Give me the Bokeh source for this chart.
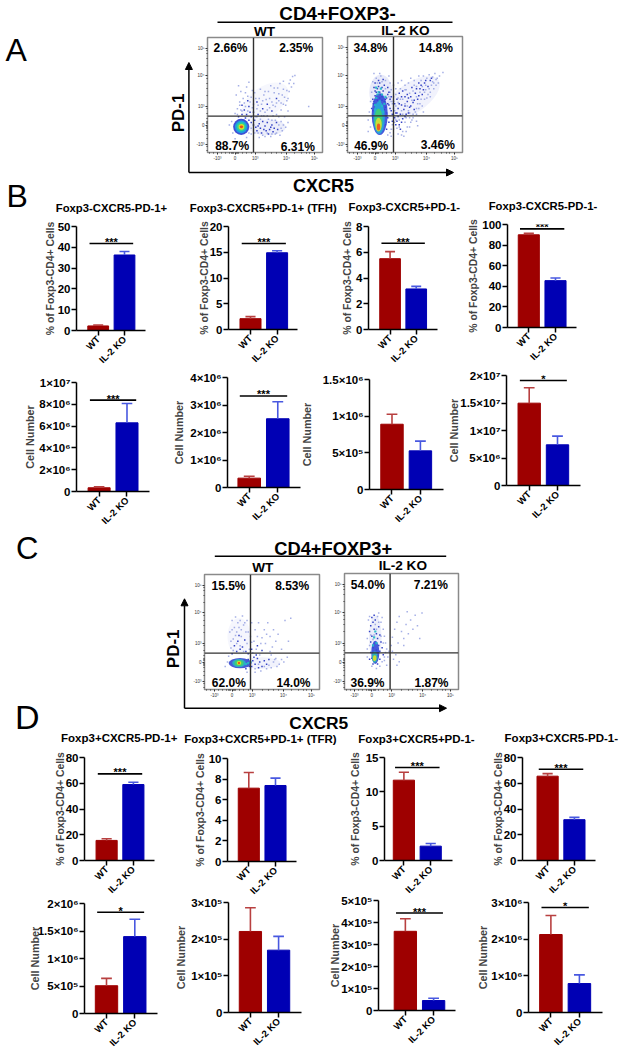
from math import pi
from bokeh.embed import file_html
from bokeh.resources import INLINE
from bokeh.plotting import figure
from bokeh.models import Range1d, FixedTicker, Arrow, NormalHead
from bokeh.core.properties import value

FONT = "Liberation Sans"
WT_COLOR, KO_COLOR = "#9E0000", "#0000B4"
WT_EDGE, KO_EDGE = "#B84040", "#4858E0"
GROUPS = ["WT", "IL-2 KO"]
PCT = "% of Foxp3-CD4+ Cells"
CELLS = "Cell Number"

# ---- bar data: WT mean, KO mean, WT error top, KO error top, significance height, stars
B1 = dict(vals=[2.2, 36.3], errs=[2.6, 38.0], sig=41.8, stars="***", ymax=50, ticks=[0, 10, 20, 30, 40, 50], labels=["0", "10", "20", "30", "40", "50"], ylabel=PCT)
B2 = dict(vals=[2.1, 14.9], errs=[2.5, 15.3], sig=16.7, stars="***", ymax=20, ticks=[0, 5, 10, 15, 20], labels=["0", "5", "10", "15", "20"], ylabel=PCT)
B3 = dict(vals=[5.5, 3.15], errs=[6.05, 3.35], sig=6.7, stars="***", ymax=8, ticks=[0, 2, 4, 6, 8], labels=["0", "2", "4", "6", "8"], ylabel=PCT)
B4 = dict(vals=[90, 45.5], errs=[91.5, 48], sig=95.8, stars="***", ymax=100, ticks=[0, 20, 40, 60, 80, 100], labels=["0", "20", "40", "60", "80", "100"], ylabel=PCT)
B5 = dict(vals=[3.4e5, 6.3e6], errs=[4.2e5, 8.07e6], sig=8.38e6, stars="***", ymax=1e7, ticks=[0, 2e6, 4e6, 6e6, 8e6, 1e7], labels=["0", "2×10⁶", "4×10⁶", "6×10⁶", "8×10⁶", "1×10⁷"], ylabel=CELLS)
B6 = dict(vals=[3.4e5, 2.5e6], errs=[4.1e5, 3.12e6], sig=3.33e6, stars="***", ymax=4e6, ticks=[0, 1e6, 2e6, 3e6, 4e6], labels=["0", "1×10⁶", "2×10⁶", "3×10⁶", "4×10⁶"], ylabel=CELLS)
B7 = dict(vals=[8.9e5, 5.27e5], errs=[1.027e6, 6.59e5], sig=None, stars="", ymax=1.5e6, ticks=[0, 5e5, 1e6, 1.5e6], labels=["0", "5×10⁵", "1×10⁶", "1.5×10⁶"], ylabel=CELLS)
B8 = dict(vals=[1.497e7, 7.4e6], errs=[1.776e7, 8.97e6], sig=1.909e7, stars="*", ymax=2e7, ticks=[0, 5e6, 1e7, 1.5e7, 2e7], labels=["0", "5×10⁶", "1×10⁷", "1.5×10⁷", "2×10⁷"], ylabel=CELLS)
D1 = dict(vals=[15.6, 59], errs=[16.9, 60.8], sig=67.3, stars="***", ymax=80, ticks=[0, 20, 40, 60, 80], labels=["0", "20", "40", "60", "80"], ylabel=PCT)
D2 = dict(vals=[7.12, 7.38], errs=[8.64, 8.09], sig=None, stars="", ymax=10, ticks=[0, 2, 4, 6, 8, 10], labels=["0", "2", "4", "6", "8", "10"], ylabel=PCT)
D3 = dict(vals=[5.05e5, 1.398e6], errs=[6.38e5, 1.714e6], sig=1.842e6, stars="*", ymax=2e6, ticks=[0, 5e5, 1e6, 1.5e6, 2e6], labels=["0", "5×10⁵", "1×10⁶", "1.5×10⁶", "2×10⁶"], ylabel=CELLS)
D4 = dict(vals=[2.21e5, 1.70e5], errs=[2.855e5, 2.075e5], sig=None, stars="", ymax=3e5, ticks=[0, 1e5, 2e5, 3e5], labels=["0", "1×10⁵", "2×10⁵", "3×10⁵"], ylabel=CELLS)
D5 = dict(vals=[11.7, 2.09], errs=[12.86, 2.48], sig=13.54, stars="***", ymax=15, ticks=[0, 5, 10, 15], labels=["0", "5", "10", "15"], ylabel=PCT)
D6 = dict(vals=[65.5, 31.7], errs=[67.5, 33.5], sig=70.9, stars="***", ymax=80, ticks=[0, 20, 40, 60, 80], labels=["0", "20", "40", "60", "80"], ylabel=PCT)
D7 = dict(vals=[3.6e5, 4.53e4], errs=[4.17e5, 5.6e4], sig=4.43e5, stars="***", ymax=5e5, ticks=[0, 1e5, 2e5, 3e5, 4e5, 5e5], labels=["0", "1×10⁵", "2×10⁵", "3×10⁵", "4×10⁵", "5×10⁵"], ylabel=CELLS)
D8 = dict(vals=[2.127e6, 7.9e5], errs=[2.645e6, 1.027e6], sig=2.864e6, stars="*", ymax=3e6, ticks=[0, 1e6, 2e6, 3e6], labels=["0", "1×10⁶", "2×10⁶", "3×10⁶"], ylabel=CELLS)

# ---- page placement of each plot frame: left, right, top, bottom, WT centre, KO centre, label standoff
BAR_PANELS = [
    (B1, 76.0, 145.0, 226.0, 329.5, 97.7, 124.0, -1),
    (B2, 227.7, 296.7, 226.0, 329.3, 249.7, 276.3, -3),
    (B3, 368.3, 437.7, 225.7, 328.3, 390.0, 416.3, 0),
    (B4, 506.7, 575.7, 224.3, 327.7, 528.0, 554.7, 0),
    (B5, 76.0, 149.3, 381.7, 490.7, 98.7, 126.7, 0),
    (B6, 226.7, 299.3, 377.3, 487.0, 248.3, 276.7, 2),
    (B7, 369.3, 443.0, 379.0, 489.0, 391.7, 420.0, 7),
    (B8, 506.0, 580.0, 375.3, 485.3, 528.7, 557.0, -3),
    (D1, 83.7, 153.3, 757.3, 860.0, 105.7, 132.3, -3),
    (D2, 226.7, 295.7, 757.7, 860.7, 248.0, 274.7, 0),
    (D3, 83.7, 156.7, 903.0, 1012.7, 105.7, 134.0, -6),
    (D4, 227.7, 301.0, 901.7, 1012.0, 249.7, 278.0, 1),
    (D5, 384.0, 451.7, 756.7, 859.7, 403.3, 430.0, 2),
    (D6, 522.3, 595.0, 756.7, 859.3, 547.3, 574.0, -3),
    (D7, 378.3, 455.7, 900.3, 1010.7, 405.3, 433.7, -3),
    (D8, 528.0, 601.7, 902.0, 1012.0, 550.3, 578.7, -1),
]

# ---- flow cytometry dots in axis units 0-100
A1_DARK = [(33,30),(36,28),(38,26),(40,24),(42,22),(43,19),(45,25),(46,21),(47,17),(48,27),(50,23),(51,19),(52,26),(53,16),(55,22),(56,24),(57,18),(58,21),(60,26),(61,20),(34,33),(37,35),(30,33),(32,37),(36,40),(30,41),(35,45),(40,35),(44,33),(43,44),(48,38),(52,42),(56,36),(60,47),(38,31),(27,31),(41,28),(44,23),(49,20),(54,20)]
A1_LIGHT = [(24,34),(26,38),(28,44),(25,50),(29,53),(27,58),(31,47),(33,52),(34,57),(36,61),(32,43),(38,48),(40,42),(41,52),(43,38),(45,47),(46,55),(47,42),(49,50),(50,35),(51,46),(53,53),(54,39),(55,58),(56,44),(58,52),(59,40),(60,33),(61,56),(62,45),(63,60),(64,37),(65,50),(66,62),(68,41),(69,54),(70,47),(71,60),(72,63),(74,66),(76,67),(66,42),(70,36),(62,31),(64,27),(66,24),(65,19),(63,15),(59,16),(55,14),(50,14),(45,13),(68,22),(70,26),(67,31),(57,32),(52,32),(47,32),(42,31),(39,39),(35,36),(29,37),(88,40),(22,17),(24,12),(34,13),(36,17),(38,21),(21,27),(19,24),(26,33),(28,41),(30,36),(33,40),(35,49),(37,44),(39,54),(42,47),(44,41),(46,36),(48,45),(50,53),(52,37),(54,47),(57,41),(58,56),(60,43),(62,51),(64,43),(66,55),(67,48),(69,45),(71,53),(73,57),(75,60),(46,29),(49,32),(53,29),(56,28),(59,28),(62,24),(64,21),(60,17),(56,16),(52,17),(48,15),(44,17),(41,17),(38,16),(43,31)]
A1_CORE = [(29.3,22.3,14,14,"#2a3cd0"),(29.3,22.3,11,11,"#18a8e0"),(29.3,22.3,8,8,"#30d890"),(29.5,22.3,5,5,"#e8e020"),(29.5,22.3,3,2.4,"#f03a18")]
A1_HAZE = [(52,22,32,14,0,0.15),(50,44,46,26,0.6,0.07)]
A1_HOT = []

A2_DARK = [(22,30),(24,34),(25,38),(23,42),(26,45),(24,49),(28,52),(30,48),(32,44),(33,39),(34,34),(35,30),(36,26),(31,28),(33,24),(34,20),(30,56),(26,55),(23,56),(35,50),(37,46),(36,41),(38,36),(39,33),(22,46),(21,38),(24,60),(28,60),(32,58),(35,56),(41,30),(43,27),(45,24),(42,34),(44,38),(46,33),(48,29),(41,42),(43,46),(47,41),(49,37),(51,33),(52,44),(54,39),(45,51),(48,53),(55,48),(57,43),(59,51),(61,46),(63,55),(65,50),(67,60),(70,57),(72,62),(62,60),(56,56),(52,50),(58,37),(46,20),(23,44),(25,52),(27,57),(29,50),(31,53),(33,46),(35,42),(37,38),(26,42),(30,45),(32,37),(34,47),(36,52),(24,53),(28,47),(22,36),(27,62),(31,63),(38,48),(40,44),(43,34),(45,42),(47,48),(50,40),(50,48),(53,47),(55,40),(58,45),(60,55),(62,49),(64,58),(66,54),(68,62),(73,64),(44,31),(47,26),(50,31),(53,34),(42,24),(39,27)]
A2_LIGHT = [(21,52),(20,44),(19,35),(18,28),(20,22),(22,61),(25,64),(29,66),(33,62),(37,60),(38,54),(40,58),(42,55),(44,60),(47,62),(50,58),(53,60),(51,54),(55,64),(58,62),(60,57),(62,66),(64,62),(66,66),(68,54),(69,64),(71,67),(73,58),(74,65),(76,68),(78,64),(80,66),(83,69),(75,60),(70,50),(67,46),(63,42),(60,38),(57,33),(54,30),(50,26),(52,22),(48,18),(44,16),(40,20),(38,14),(55,26),(60,33),(65,40),(72,48),(42,50),(46,46),(50,42),(53,36),(56,28),(60,27),(47,36),(44,43),(41,36),(39,42),(37,52),(40,48),(28,68),(23,68),(36,66),(77,58),(66,35),(61,23),(49,14),(18,18),(22,42),(24,56),(26,60),(30,61),(33,55),(36,48),(38,44),(40,38),(42,40),(44,47),(46,55),(48,46),(50,54),(52,40),(54,51),(56,45),(57,53),(58,58),(60,48),(61,42),(63,52),(64,46),(65,57),(67,52),(68,58),(69,47),(71,55),(72,52),(74,61),(75,55),(77,63),(79,60),(42,28),(45,28),(48,33),(51,30),(54,34),(57,30),(59,35),(62,38),(45,22),(47,15),(51,18),(54,22),(41,26),(43,21),(39,24),(38,20),(37,17),(35,15)]
A2_CORE = [(28,33,14,36,"#3448d8"),(27.5,30,10,28,"#28a8d8"),(27,28,7,20,"#40d070"),(27,24,5.5,12,"#d8e030"),(27,22,3,6,"#f05020")]
A2_HAZE = [(29,52,20,30,0,0.18),(56,47,56,26,0.6,0.11)]
A2_HOT = [(25,47),(28,44),(30,40),(26,50),(31,35),(24,41),(29,55),(33,48),(27,52),(32,42),(24,37),(30,50),(25,56)]

C1_DARK = [(24,31),(28,33),(31,35),(26,38),(33,37),(29,42),(36,33),(38,31),(35,43),(30,47),(42,25),(44,22),(46,27),(48,24),(50,20),(43,28),(52,25),(41,20),(47,19),(45,30),(38,26),(39,20),(36,18),(54,22),(56,26),(41,35),(46,38),(50,34)]
C1_LIGHT = [(23,36),(25,44),(22,50),(26,54),(29,58),(24,60),(27,63),(32,52),(34,56),(37,60),(33,64),(38,50),(40,46),(43,42),(44,52),(47,58),(46,46),(50,45),(53,40),(52,52),(55,58),(57,46),(59,37),(60,52),(62,42),(64,48),(67,35),(70,60),(73,42),(75,62),(58,30),(60,24),(62,27),(65,22),(67,26),(69,24),(58,19),(54,18),(49,16),(44,15),(72,28),(41,58),(36,50),(31,60),(28,50),(20,24),(18,20),(21,29),(42,32),(48,30),(24,52),(27,47),(30,54),(32,46),(35,58),(28,40),(25,34),(37,40),(39,35),(41,41),(45,35),(49,40),(54,48),(57,33),(61,26),(52,20),(47,22),(44,18),(56,21),(63,20),(40,18),(37,15),(34,33),(31,38),(23,42)]
C1_CORE = [(31,23,20,9,"#3448d0"),(30,23,12,7,"#2ab0c8"),(30,23,8,5.5,"#40d070"),(30,23,4,3.5,"#e0e020"),(30,23,2,2,"#f03a18")]
C1_HAZE = [(50,23,32,10,0,0.11),(30,46,20,32,0,0.08)]
C1_HOT = [(38,23),(40,24),(36,22)]

C2_DARK = [(23,55),(25,58),(27,60),(22,50),(26,52),(28,48),(24,46),(29,44),(23,41),(27,40),(30,38),(25,36),(28,34),(23,32),(31,33),(26,30),(29,29),(24,27),(31,26),(22,26),(27,24),(29,22),(25,22),(30,54),(31,47),(32,41),(24,62),(26,64),(33,36),(34,30)]
C2_LIGHT = [(21,60),(22,63),(29,63),(32,58),(34,52),(35,46),(36,40),(37,35),(38,28),(20,44),(20,35),(20,28),(33,24),(35,25),(37,21),(42,33),(45,30),(43,26),(48,24),(46,21),(42,45),(44,52),(46,58),(48,63),(50,50),(52,44),(54,56),(56,48),(58,60),(60,52),(62,64),(64,55),(66,44),(68,66),(52,38),(47,40),(33,62),(30,66),(55,67),(41,38),(25,43),(28,52),(30,58),(27,56),(22,38),(23,47),(32,46),(34,40),(36,32),(35,28),(24,20),(28,18),(31,20),(39,33),(26,47)]
C2_CORE = [(27,32,7,20,"#3448d8"),(26.5,28,5,10,"#30b8b0"),(26.5,27,3,5,"#e0e020")]
C2_HAZE = [(27,44,11,40,0,0.15)]
C2_HOT = [(26,45),(28,40),(25,38),(27,50)]

FLOW_TICKS = [8.7, 24, 41.5, 68.7, 93]
FLOW_YTICKS = [7.2, 23.5, 39.7, 66.7, 90.5]
FLOW_LABELS = ["-10³", "0", "10³", "10⁴", "10⁵"]
FLOW_MINOR = [2, 5, 12, 16, 19, 21, 22, 23, 25, 26, 27, 30, 34, 38, 50, 56, 60, 64, 76, 82, 86, 89]
GATE_X, GATE_Y = 40, 31.6

# left, right, top, bottom (page pixels, box placement only)
FLOW_PANELS = [
    (A1_DARK, A1_LIGHT, A1_CORE, A1_HAZE, A1_HOT, 207.3, 322.3, 37.3, 152.3),
    (A2_DARK, A2_LIGHT, A2_CORE, A2_HAZE, A2_HOT, 347.3, 462.0, 36.0, 151.7),
    (C1_DARK, C1_LIGHT, C1_CORE, C1_HAZE, C1_HOT, 204.0, 319.0, 573.7, 689.0),
    (C2_DARK, C2_LIGHT, C2_CORE, C2_HAZE, C2_HOT, 343.7, 458.0, 572.7, 688.3),
]

# ---- page texts: text, x, y(centre), size, style, align, angle
TEXTS = [
    ("A", 5, 49.5, "32px", "normal", "left", 0),
    ("B", 6, 195.5, "32px", "normal", "left", 0),
    ("C", 15.5, 548, "31px", "normal", "left", 0),
    ("D", 14.5, 716, "34px", "normal", "left", 0),
    ("CD4+FOXP3-", 337, 12.5, "18.8px", "bold", "center", 0),
    ("WT", 264, 30.5, "13.6px", "bold", "center", 0),
    ("IL-2 KO", 405, 30, "13.6px", "bold", "center", 0),
    ("2.66%", 230, 47.7, "12px", "bold", "center", 0),
    ("2.35%", 295.7, 47.7, "12px", "bold", "center", 0),
    ("88.7%", 231.7, 145.7, "12px", "bold", "center", 0),
    ("6.31%", 297.3, 146, "12px", "bold", "center", 0),
    ("34.8%", 370, 47.7, "12px", "bold", "center", 0),
    ("14.8%", 435.3, 47.7, "12px", "bold", "center", 0),
    ("46.9%", 370.7, 145, "12px", "bold", "center", 0),
    ("3.46%", 437.3, 144, "12px", "bold", "center", 0),
    ("PD-1", 178, 112.5, "17px", "bold", "center", pi / 2),
    ("CXCR5", 323, 185, "18px", "bold", "center", 0),
    ("Foxp3-CXCR5-PD-1+", 111, 207, "11.3px", "bold", "center", 0),
    ("Foxp3-CXCR5+PD-1+ (TFH)", 262.7, 207, "11.3px", "bold", "center", 0),
    ("Foxp3-CXCR5+PD-1-", 403.8, 206, "11.3px", "bold", "center", 0),
    ("Foxp3-CXCR5-PD-1-", 542.5, 205, "11.3px", "bold", "center", 0),
    ("CD4+FOXP3+", 332.7, 548, "18.3px", "bold", "center", 0),
    ("WT", 262.3, 566.7, "13.6px", "bold", "center", 0),
    ("IL-2 KO", 402.3, 565, "13.6px", "bold", "center", 0),
    ("15.5%", 228, 585, "12px", "bold", "center", 0),
    ("8.53%", 291.7, 585, "12px", "bold", "center", 0),
    ("62.0%", 228.3, 682.7, "12px", "bold", "center", 0),
    ("14.0%", 293, 682.7, "12px", "bold", "center", 0),
    ("54.0%", 367.3, 584, "12px", "bold", "center", 0),
    ("7.21%", 430.3, 584, "12px", "bold", "center", 0),
    ("36.9%", 367, 682.7, "12px", "bold", "center", 0),
    ("1.87%", 431, 682.7, "12px", "bold", "center", 0),
    ("PD-1", 173.3, 648.3, "17px", "bold", "center", pi / 2),
    ("CXCR5", 318.3, 722.5, "17.4px", "bold", "center", 0),
    ("Foxp3+CXCR5-PD-1+", 118.7, 737.7, "11.5px", "bold", "center", 0),
    ("Foxp3+CXCR5+PD-1+ (TFR)", 260, 738, "11.5px", "bold", "center", 0),
    ("Foxp3+CXCR5+PD-1-", 416, 738, "11.5px", "bold", "center", 0),
    ("Foxp3+CXCR5-PD-1-", 560.8, 737, "11.5px", "bold", "center", 0),
]
RULES = [(217, 452, 21.7, 21.7), (214.3, 445.7, 555.7, 555.7)]
ARROWS = [(188.4, 172, 188.4, 62), (188.4, 172, 453, 172), (184, 707.7, 184, 598.3), (184, 707.7, 446, 707.7)]


def place(x, y):
    return {"position": "absolute", "left": f"{x:.1f}px", "top": f"{y:.1f}px"}


def base_fig(fw, fh, xr, yr, x, y, **kw):
    return figure(frame_width=fw, frame_height=fh, x_range=xr, y_range=yr, tools="", toolbar_location=None,
                  output_backend="svg", background_fill_color=None, border_fill_color=None,
                  styles=place(x, y), **kw)


def bar_panel(d, L, R, T, B, c1, c2, standoff):
    lm, rm, tm, bm = 76, 4, 8, 37
    s = c2 - c1
    fw, fh = round(R - L), round(B - T)
    xr = Range1d(1 - (c1 - L) / s, 2 + (R - c2) / s)
    yr = Range1d(0, d["ymax"])
    p = base_fig(fw, fh, xr, yr, L - lm, T - tm,
                 min_border_left=lm, min_border_right=rm, min_border_top=tm, min_border_bottom=bm)
    p.outline_line_color = None
    p.grid.visible = False
    xs = [1, 2]
    cols = [WT_COLOR, KO_COLOR]
    edges = [WT_EDGE, KO_EDGE]
    p.vbar(x=xs, top=d["vals"], width=0.79, bottom=0, fill_color=cols, line_color=cols)
    p.segment(x0=xs, y0=d["vals"], x1=xs, y1=d["errs"], line_color=edges, line_width=1.6)
    p.segment(x0=[x - 0.19 for x in xs], y0=d["errs"], x1=[x + 0.19 for x in xs], y1=d["errs"], line_color=edges, line_width=1.6)
    if d["sig"] is not None:
        p.segment(x0=[0.67], y0=[d["sig"]], x1=[2.33], y1=[d["sig"]], line_color="black", line_width=1.6)
        p.text(x=[1.5], y=[d["sig"]], text=[d["stars"]], text_font=value(FONT), text_font_style="bold",
               text_font_size="11px", text_align="center", text_baseline="middle", text_color="black", y_offset=-1.5)
    ax = p.xaxis[0]
    ax.ticker = FixedTicker(ticks=xs)
    ax.major_label_overrides = {1: GROUPS[0], 2: GROUPS[1]}
    ax.major_label_orientation = pi / 4
    ax.major_label_text_font = FONT
    ax.major_label_text_font_style = "bold"
    ax.major_label_text_font_size = "9.5px"
    ax.major_label_standoff = 2
    ay = p.yaxis[0]
    ay.ticker = FixedTicker(ticks=d["ticks"])
    ay.major_label_overrides = dict(zip(d["ticks"], d["labels"]))
    ay.major_label_text_font = FONT
    ay.major_label_text_font_style = "bold"
    ay.major_label_text_font_size = "11.5px"
    ay.major_label_standoff = 1
    ay.axis_label = d["ylabel"]
    ay.axis_label_text_font = FONT
    ay.axis_label_text_font_style = "bold"
    ay.axis_label_text_font_size = "10.4px" if d["ylabel"] == PCT else "10.8px"
    ay.axis_label_standoff = standoff
    for a in (ax, ay):
        a.axis_line_color = "black"
        a.axis_line_width = 1.5
        a.major_tick_line_color = "black"
        a.major_tick_line_width = 1.5
        a.major_tick_out = 5
        a.major_tick_in = 0
        a.minor_tick_line_color = None
        a.major_label_text_color = "black"
    return p


def flow_panel(dark, light, core, haze, hot, L, R, T, B):
    lm, rm, tm, bm = 16, 2, 3, 14
    p = base_fig(round(R - L), round(B - T), Range1d(0, 100), Range1d(0, 100), L - lm, T - tm,
                 min_border_left=lm, min_border_right=rm, min_border_top=tm, min_border_bottom=bm)
    p.grid.visible = False
    p.outline_line_color = "#8a8a8a"
    p.outline_line_width = 1.5
    for cx, cy, w, h, ang, al in haze:
        p.ellipse(x=[cx], y=[cy], width=[w], height=[h], angle=ang, fill_color="#7f8ce0", line_color=None, fill_alpha=al)
    lx, ly = zip(*light)
    dx, dy = zip(*dark)
    p.scatter(lx, ly, size=1.5, marker="square", color="#8f9be0", alpha=0.8, line_color=None)
    p.scatter(dx, dy, size=1.5, marker="square", color="#2030c0", alpha=0.9, line_color=None)
    for cx, cy, w, h, col in core:
        p.ellipse(x=[cx], y=[cy], width=[w], height=[h], fill_color=col, line_color=None, fill_alpha=0.9)
    if hot:
        hx, hy = zip(*hot)
        p.scatter(hx, hy, size=2.2, marker="square", color="#22b8c8", alpha=0.9, line_color=None)
    p.segment(x0=[GATE_X, 0], y0=[0, GATE_Y], x1=[GATE_X, 100], y1=[100, GATE_Y], line_color="#303030", line_width=1.4)
    for a, ticks in ((p.xaxis[0], FLOW_TICKS), (p.yaxis[0], FLOW_YTICKS)):
        a.ticker = FixedTicker(ticks=ticks, minor_ticks=FLOW_MINOR)
        a.major_label_overrides = dict(zip(ticks, FLOW_LABELS))
        a.major_label_text_font = FONT
        a.major_label_text_font_size = "4.5px"
        a.major_label_text_color = "#333333"
        a.major_label_standoff = 1
        a.axis_line_color = None
        a.major_tick_line_color = "#333333"
        a.major_tick_out = 2
        a.major_tick_in = 0
        a.minor_tick_line_color = "#333333"
        a.minor_tick_out = 1
        a.minor_tick_in = 0
    return p


master = figure(frame_width=620, frame_height=1048, x_range=Range1d(0, 620), y_range=Range1d(1048, 0),
                x_axis_location=None, y_axis_location=None, tools="", toolbar_location=None, output_backend="svg",
                background_fill_color=None, border_fill_color=None, styles=place(0, 0),
                min_border_left=0, min_border_right=0, min_border_top=0, min_border_bottom=0)
master.grid.visible = False
master.outline_line_color = None
for txt, x, y, size, style, align, angle in TEXTS:
    master.text(x=[x], y=[y], text=[txt], text_font=value(FONT), text_font_style=style, text_font_size=size,
                text_align=align, text_baseline="middle", angle=angle, text_color="black")
for x0, x1, y0, y1 in RULES:
    master.segment(x0=[x0], x1=[x1], y0=[y0], y1=[y1], line_color="black", line_width=1.5)
for x0, y0, x1, y1 in ARROWS:
    master.add_layout(Arrow(end=NormalHead(size=7, fill_color="black", line_color="black"),
                            x_start=x0, y_start=y0, x_end=x1, y_end=y1, line_color="black", line_width=1.5))

roots = [master]
roots += [flow_panel(*f) for f in FLOW_PANELS]
roots += [bar_panel(*b) for b in BAR_PANELS]
open("out.html", "w").write(file_html(roots, INLINE))
